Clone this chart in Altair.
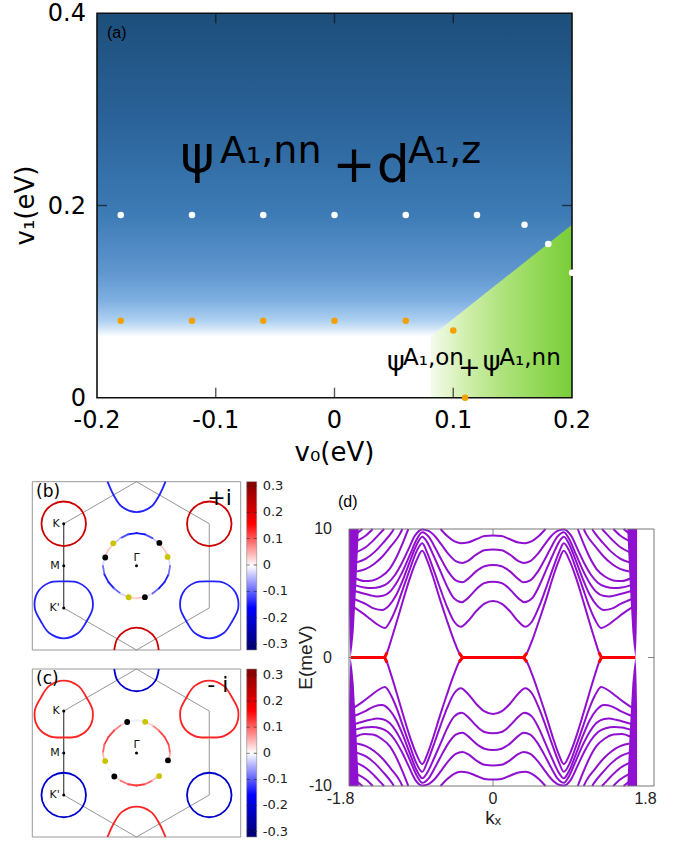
import math
import altair as alt
import pandas as pd

# ================= Panel (a): phase diagram =================
a_x_ticks = [-0.2, -0.1, 0.0, 0.1, 0.2]
a_x_labels = ["-0.2", "-0.1", "0", "0.1", "0.2"]
a_y_ticks = [0.0, 0.2, 0.4]
a_y_labels = ["0", "0.2", "0.4"]
a_white_v0 = [-0.18, -0.12, -0.06, 0.0, 0.06, 0.12, 0.16, 0.18, 0.2]
a_white_v1 = [0.19, 0.19, 0.19, 0.19, 0.19, 0.19, 0.18, 0.16, 0.13]
a_orange_v0 = [-0.18, -0.12, -0.06, 0.0, 0.06, 0.10, 0.11]
a_orange_v1 = [0.08, 0.08, 0.08, 0.08, 0.08, 0.07, 0.0]
a_blue_edge = 0.0635              # lower edge of the blue phase
a_green_v0 = [0.081, 0.2]         # boundary of the green phase
a_green_v1 = [0.0635, 0.18]

# ================= Panels (b), (c): Fermi surfaces =================
bz_hex_x = [0.0, 0.866, 0.866, 0.0, -0.866, -0.866, 0.0]
bz_hex_y = [1.0, 0.5, -0.5, -1.0, -0.5, 0.5, 1.0]
K_centers = [(-0.866, 0.5), (0.866, 0.5), (0.0, -1.0)]
Kp_centers = [(-0.866, -0.5), (0.866, -0.5), (0.0, 1.0)]
theta_12 = [0, 30, 60, 90, 120, 150, 180, 210, 240, 270, 300, 330]
r_circle = [0.265, 0.265, 0.265, 0.265, 0.265, 0.265, 0.265, 0.265, 0.265, 0.265, 0.265, 0.265]
r_tri_b = [0.345, 0.362, 0.345, 0.315, 0.345, 0.362, 0.345, 0.315, 0.345, 0.362, 0.345, 0.315]
r_tri_c = [0.345, 0.315, 0.345, 0.362, 0.345, 0.315, 0.345, 0.362, 0.345, 0.315, 0.345, 0.362]
val_K_b, val_Kp_b = 0.21, -0.13
val_K_c, val_Kp_c = 0.13, -0.20
theta_24 = [0, 15, 30, 45, 60, 75, 90, 105, 120, 135, 150, 165,
            180, 195, 210, 225, 240, 255, 270, 285, 300, 315, 330, 345]
r_gamma = [0.400, 0.395, 0.385, 0.378, 0.380, 0.387, 0.390, 0.387, 0.380, 0.378, 0.385, 0.395,
           0.400, 0.395, 0.385, 0.378, 0.380, 0.385, 0.387, 0.385, 0.380, 0.378, 0.385, 0.395]
val_gamma_b = [-0.06, 0.02, 0.05, 0.01, -0.08, -0.13, -0.15, -0.13, -0.08, 0.01, 0.05, 0.02,
               -0.06, -0.11, -0.15, -0.12, -0.06, 0.01, 0.05, 0.02, -0.06, -0.12, -0.15, -0.11]
val_gamma_c = [0.08, 0.11, 0.12, 0.10, 0.05, 0.0, -0.02, 0.0, 0.05, 0.10, 0.12, 0.11,
               0.07, 0.01, -0.02, 0.0, 0.06, 0.10, 0.12, 0.11, 0.07, 0.01, -0.02, 0.02]
dots_b_yellow = [136, 256, 16]
dots_b_black = [45, 165, 285]
dots_c_yellow = [74.5, 194.5, 314.5]
dots_c_black = [106.7, 226.7, 346.7]
dot_r = 0.385
sym_x = [-0.866, -0.866, -0.866]
sym_y = [0.5, 0.0, -0.5]
sym_lab = ["K", "M", "K'"]
cbar_ticks = [-0.3, -0.2, -0.1, 0.0, 0.1, 0.2, 0.3]
cbar_labels = ["-0.3", "-0.2", "-0.1", "0", "0.1", "0.2", "0.3"]

# ================= Panel (d): band structure =================
d_x_ticks = [-1.8, 0.0, 1.8]
d_x_labels = ["-1.8", "0", "1.8"]
d_y_ticks = [-10, 0, 10]
d_y_labels = ["-10", "0", "10"]
# bands running through k=0 (u >= 0 half, E > 0)
bands_center = [
    ([0, 0.1, 0.2, 0.3, 0.38, 0.46, 0.54, 0.62, 0.70, 0.78, 0.835, 0.90, 0.98, 1.06, 1.14, 1.20, 1.276, 1.36, 1.45, 1.54, 1.64],
     [4.4, 4.2, 3.6, 2.8, 2.4, 2.8, 3.9, 5.3, 6.8, 8.2, 8.9, 8.3, 6.9, 5.4, 3.9, 3.0, 2.3, 2.55, 3.0, 3.45, 3.9]),
    ([0, 0.1, 0.2, 0.3, 0.37, 0.46, 0.54, 0.62, 0.70, 0.78, 0.835, 0.90, 0.98, 1.06, 1.14, 1.22, 1.31, 1.40, 1.50, 1.64],
     [5.9, 5.8, 5.3, 4.6, 4.3, 4.6, 5.5, 6.7, 7.9, 9.0, 9.4, 8.8, 7.5, 6.1, 4.9, 4.1, 3.7, 3.8, 4.15, 4.55]),
    ([0, 0.1, 0.2, 0.3, 0.36, 0.44, 0.52, 0.60, 0.68, 0.76, 0.835, 0.90, 0.98, 1.06, 1.14, 1.22, 1.30, 1.37, 1.45, 1.54, 1.64],
     [7.2, 7.1, 6.7, 6.1, 5.85, 6.0, 6.6, 7.5, 8.5, 9.4, 9.75, 9.2, 8.0, 6.8, 5.8, 5.1, 4.8, 4.75, 4.85, 5.0, 5.2]),
    ([0, 0.1, 0.2, 0.3, 0.36, 0.44, 0.52, 0.60, 0.68, 0.76, 0.835, 0.92, 1.0, 1.08, 1.16, 1.24, 1.33, 1.43, 1.52, 1.64],
     [8.4, 8.35, 8.0, 7.5, 7.35, 7.5, 8.0, 8.7, 9.4, 9.85, 9.97, 9.5, 8.4, 7.3, 6.4, 5.8, 5.5, 5.4, 5.45, 5.65]),
    ([0, 0.1, 0.2, 0.3, 0.38, 0.46, 0.54, 0.62],
     [9.5, 9.45, 9.2, 8.95, 8.9, 9.05, 9.45, 10.0]),
]
# bands that stay on one side of k=0 (u >= 0, E > 0)
band_lambda = ([0.36, 0.40, 0.46, 0.55, 0.63, 0.71, 0.78, 0.835, 0.90, 0.98, 1.06, 1.14, 1.21, 1.25, 1.28],
               [0, 0.35, 1.3, 3.0, 4.6, 6.3, 7.6, 8.3, 7.6, 6.2, 4.5, 2.7, 1.2, 0.4, 0])
bands_side = [
    band_lambda,
    ([1.0, 1.06, 1.14, 1.22, 1.32, 1.42, 1.52, 1.62], [10.0, 9.0, 7.8, 6.9, 6.3, 6.0, 5.95, 6.15]),
    ([1.07, 1.1, 1.2, 1.3, 1.4, 1.5, 1.61], [10.0, 9.6, 8.7, 7.9, 7.3, 6.9, 6.7]),
    ([1.17, 1.2, 1.3, 1.4, 1.5, 1.61], [10.0, 9.7, 8.9, 8.2, 7.7, 7.4]),
    ([1.285, 1.3, 1.4, 1.5, 1.61], [10.0, 9.9, 9.2, 8.6, 8.2]),
    ([1.42, 1.5, 1.60], [10.0, 9.5, 9.1]),
    ([1.54, 1.60], [10.0, 9.7]),
]
zero_segments = [(-1.68, -1.28), (-0.36, 0.36), (1.28, 1.68)]
dense_E = [0, 1, 2, 4, 6, 8, 10]
dense_inner = [1.68, 1.66, 1.645, 1.628, 1.612, 1.598, 1.585]
dense_outer = [1.68, 1.69, 1.695, 1.70, 1.70, 1.70, 1.70]

# ---------------------------------------------------------------
FA = "DejaVu Sans"
FD = "Liberation Sans"
one = pd.DataFrame({"_": [0]})

# pixel frames of the panels (plot areas)
A_X, A_Y = [97, 572], [397.7, 13.3]
B_X, B_Y = [32.3, 240.7], [650.0, 481.7]
C_X, C_Y = [32.3, 240.7], [837.0, 669.0]
D_X, D_Y = [349, 654], [786, 529]
CB_X = [246.7, 256.7]
CB_B_Y = [644.0, 486.0]   # where -0.3 .. 0.3 sit on colour bar (b)
CB_C_Y = [831.5, 675.0]   # where -0.3 .. 0.3 sit on colour bar (c)


def Q(f, dom, rng, ch):
    sc = alt.Scale(domain=dom, range=rng, nice=False, zero=False)
    return (alt.X if ch == "x" else alt.Y)(f, type="quantitative", scale=sc, axis=None)


def D(v, dom, rng, ch):
    sc = alt.Scale(domain=dom, range=rng, nice=False, zero=False)
    return (alt.X if ch == "x" else alt.Y)(datum=v, type="quantitative", scale=sc, axis=None)


def textmark(txt, size, font=FA, align="left", baseline="alphabetic", color="black", **kw):
    return alt.Chart(one).mark_text(text=txt, fontSize=size, font=font, align=align,
                                    baseline=baseline, color=color, **kw)


def ticks(df, xe, ye, orient, size, off, color, th=1.4):
    kw = {"yOffset": off} if orient == "vertical" else {"xOffset": off}
    return alt.Chart(df).mark_tick(orient=orient, size=size, thickness=th, color=color, **kw).encode(
        x=xe, y=ye)


# ----- panel (a) -----
ADX = [a_x_ticks[0], a_x_ticks[-1]]
ADY = [a_y_ticks[0], a_y_ticks[-1]]
ax = lambda f: Q(f, ADX, A_X, "x")
ay = lambda f: Q(f, ADY, A_Y, "y")
adx = lambda v: D(v, ADX, A_X, "x")
ady = lambda v: D(v, ADY, A_Y, "y")

blue_grad = alt.Gradient(gradient="linear", x1=0, x2=0, y1=1, y2=0, stops=[
    alt.GradientStop(offset=0.0, color="#ffffff"),
    alt.GradientStop(offset=0.025, color="#d3e6f8"),
    alt.GradientStop(offset=0.05, color="#add0f0"),
    alt.GradientStop(offset=0.11, color="#80b0e2"),
    alt.GradientStop(offset=0.20, color="#5f96ce"),
    alt.GradientStop(offset=0.38, color="#3d7bb6"),
    alt.GradientStop(offset=0.67, color="#2a6399"),
    alt.GradientStop(offset=1.0, color="#1d4e7b"),
])
green_grad = alt.Gradient(gradient="linear", x1=0, x2=1, y1=0, y2=0, stops=[
    alt.GradientStop(offset=0.0, color="#f4fbec"),
    alt.GradientStop(offset=0.25, color="#d0efac"),
    alt.GradientStop(offset=0.5, color="#afe37e"),
    alt.GradientStop(offset=0.75, color="#94d958"),
    alt.GradientStop(offset=1.0, color="#79cd38"),
])

blue_df = pd.DataFrame({"v0": [ADX[0]], "v0b": [ADX[1]], "v1": [a_blue_edge], "v1b": [ADY[1]]})
blue = alt.Chart(blue_df).mark_rect(fill=blue_grad).encode(
    x=ax("v0"), x2="v0b", y=ay("v1"), y2="v1b")
green = alt.Chart(pd.DataFrame({"v0": a_green_v0, "v1": a_green_v1})).mark_area(
    color=green_grad).encode(x=ax("v0"), y=ay("v1"), y2=alt.Y2(datum=0))
frame_df = pd.DataFrame({"v0": [ADX[0]], "v0b": [ADX[1]], "v1": [ADY[0]], "v1b": [ADY[1]]})
frame_a = alt.Chart(frame_df).mark_rect(fillOpacity=0, stroke="#111", strokeWidth=1.6).encode(
    x=ax("v0"), x2="v0b", y=ay("v1"), y2="v1b")

ta_b = ticks(pd.DataFrame({"v0": a_x_ticks[1:-1], "v1": [ADY[0]] * 3}), ax("v0"), ay("v1"), "vertical", 10, -5, "#111")
ta_t = ticks(pd.DataFrame({"v0": a_x_ticks[1:-1], "v1": [ADY[1]] * 3}), ax("v0"), ay("v1"), "vertical", 10, 5, "#111")
ta_l = ticks(pd.DataFrame({"v0": [ADX[0]], "v1": [a_y_ticks[1]]}), ax("v0"), ay("v1"), "horizontal", 10, 5, "#111")
ta_r = ticks(pd.DataFrame({"v0": [ADX[1]], "v1": [a_y_ticks[1]]}), ax("v0"), ay("v1"), "horizontal", 10, -5, "#111")

white = alt.Chart(pd.DataFrame({"v0": a_white_v0, "v1": a_white_v1})).mark_circle(
    size=42, color="white", opacity=1).encode(x=ax("v0"), y=ay("v1"))
orange = alt.Chart(pd.DataFrame({"v0": a_orange_v0, "v1": a_orange_v1})).mark_circle(
    size=42, color="#f5a000", opacity=1).encode(x=ax("v0"), y=ay("v1"))

xlab_a = alt.Chart(pd.DataFrame({"v0": a_x_ticks, "t": a_x_labels})).mark_text(
    font=FA, fontSize=24, baseline="top", dy=11, color="black").encode(
    x=ax("v0"), y=ady(ADY[0]), text="t:N")
ylab_a = alt.Chart(pd.DataFrame({"v1": a_y_ticks, "t": a_y_labels})).mark_text(
    font=FA, fontSize=24, align="right", baseline="middle", dx=-11, dy=1, color="black").encode(
    x=adx(ADX[0]), y=ay("v1"), text="t:N")
xtitle_a = textmark("v₀(eV)", 26, align="center", baseline="middle").encode(
    x=adx(0.0), y=alt.value(453))
ytitle_a = textmark("v₁(eV)", 26, align="center", baseline="middle", angle=270).encode(
    x=alt.value(26), y=ady(0.2))


def at(txt, x, y, size, font=FA):
    return textmark(txt, size, font=font).encode(x=adx(x), y=ady(y))


texts_a = [
    at("(a)", -0.1916, 0.3743, 16, FD),
    at("ψ", -0.130, 0.235, 52),
    at("A₁,nn", -0.0964, 0.2439, 38),
    at("+", -0.002, 0.2245, 52),
    at("d", 0.0355, 0.2245, 52),
    at("A₁,z", 0.0619, 0.2439, 38),
    at("ψ", 0.0442, 0.0288, 27),
    at("A₁,on", 0.0577, 0.0340, 23),
    at("+", 0.1040, 0.0226, 27),
    at("ψ", 0.1248, 0.0288, 27),
    at("A₁,nn", 0.1388, 0.0340, 23),
]

panel_a = alt.layer(blue, green, ta_b, ta_t, ta_l, ta_r, frame_a, white, orange,
                    xlab_a, ylab_a, xtitle_a, ytitle_a, *texts_a)

# ----- panels (b), (c) -----
FDX = [-1.24, 1.24]
FDY = [-1.0, 1.0]
CDOM = [cbar_ticks[0], cbar_ticks[-1]]


def FC():
    return alt.Color("val:Q", scale=alt.Scale(
        domain=[-0.3, -0.15, 0.0, 0.15, 0.3],
        range=["#00006b", "#0000ff", "#ffffff", "#ff0000", "#800000"],
        interpolate="rgb"), legend=None)


def polar_rows(center, thetas, radii, val, pid, rows):
    cx, cy = center
    for i, (t, r) in enumerate(zip(thetas, radii)):
        rows.append({"x": cx + r * math.cos(math.radians(t)),
                     "y": cy + r * math.sin(math.radians(t)),
                     "val": val, "pid": pid, "i": i})


def make_fs(panel):
    if panel == "b":
        PX, PY, CBY = B_X, B_Y, CB_B_Y
        rK, rKp, vK, vKp = r_circle, r_tri_b, val_K_b, val_Kp_b
        vg, yel, blk, lab, sgn = val_gamma_b, dots_b_yellow, dots_b_black, "(b)", "+i"
    else:
        PX, PY, CBY = C_X, C_Y, CB_C_Y
        rK, rKp, vK, vKp = r_tri_c, r_circle, val_K_c, val_Kp_c
        vg, yel, blk, lab, sgn = val_gamma_c, dots_c_yellow, dots_c_black, "(c)", "- i"
    fx = lambda f: Q(f, FDX, PX, "x")
    fy = lambda f: Q(f, FDY, PY, "y")
    fdx = lambda v: D(v, FDX, PX, "x")
    fdy = lambda v: D(v, FDY, PY, "y")

    frame = alt.Chart(pd.DataFrame({"x": [FDX[0]], "x2": [FDX[1]], "y": [FDY[0]], "y2": [FDY[1]]})).mark_rect(
        fillOpacity=0, stroke="#999", strokeWidth=1).encode(x=fx("x"), x2="x2", y=fy("y"), y2="y2")

    hexdf = pd.DataFrame({"x": bz_hex_x, "y": bz_hex_y, "i": list(range(len(bz_hex_x)))})
    hexl = alt.Chart(hexdf).mark_line(color="#8a8a8a", strokeWidth=0.9).encode(
        x=fx("x"), y=fy("y"), order="i:Q")
    left = alt.Chart(pd.DataFrame({"x": [sym_x[0]], "y": [sym_y[0]], "y2": [sym_y[2]]})).mark_rule(
        color="#333", strokeWidth=0.9).encode(x=fx("x"), y=fy("y"), y2="y2")

    rows = []
    for ci, c in enumerate(K_centers[:2]):
        polar_rows(c, theta_12, rK, vK, f"K{ci}", rows)
    for ci, c in enumerate(Kp_centers[:2]):
        polar_rows(c, theta_12, rKp, vKp, f"P{ci}", rows)
    closed = alt.Chart(pd.DataFrame(rows)).mark_line(
        interpolate="cardinal-closed", strokeWidth=1.8).encode(
        x=fx("x"), y=fy("y"), color=FC(), detail="pid:N", order="i:Q")
    rows2 = []
    polar_rows(K_centers[2], theta_12[0:7], rK[0:7], vK, "Kb", rows2)
    polar_rows(Kp_centers[2], theta_12[6:] + [360], rKp[6:] + [rKp[0]], vKp, "Pt", rows2)
    halves = alt.Chart(pd.DataFrame(rows2)).mark_line(
        interpolate="cardinal", strokeWidth=1.8).encode(
        x=fx("x"), y=fy("y"), color=FC(), detail="pid:N", order="i:Q")

    seg = []
    n = len(theta_24)
    for i in range(n):
        j = (i + 1) % n
        t0, t1 = math.radians(theta_24[i]), math.radians(theta_24[j])
        seg.append({"x": r_gamma[i] * math.cos(t0), "y": r_gamma[i] * math.sin(t0),
                    "x2": r_gamma[j] * math.cos(t1), "y2": r_gamma[j] * math.sin(t1),
                    "val": 0.5 * (vg[i] + vg[j])})
    central = alt.Chart(pd.DataFrame(seg)).mark_rule(strokeWidth=1.8, strokeCap="round").encode(
        x=fx("x"), y=fy("y"), x2="x2", y2="y2", color=FC())

    def dots(angles, colr):
        df = pd.DataFrame({"x": [dot_r * math.cos(math.radians(a)) for a in angles],
                           "y": [dot_r * math.sin(math.radians(a)) for a in angles]})
        return alt.Chart(df).mark_circle(size=34, color=colr, opacity=1).encode(x=fx("x"), y=fy("y"))

    sympts = alt.Chart(pd.DataFrame({"x": sym_x + [0.0], "y": sym_y + [0.0]})).mark_circle(
        size=9, color="black", opacity=1).encode(x=fx("x"), y=fy("y"))
    symlab = alt.Chart(pd.DataFrame({"x": sym_x, "y": sym_y, "t": sym_lab})).mark_text(
        align="right", baseline="middle", dx=-4, fontSize=11, font=FA, color="#111").encode(
        x=fx("x"), y=fy("y"), text="t:N")
    gam = textmark("Γ", 11, align="center", baseline="bottom", dy=-3, color="#111").encode(
        x=fdx(0.0), y=fdy(0.0))
    lab_t = textmark(lab, 17).encode(x=fdx(-1.196), y=fdy(0.818))
    sgn_t = textmark(sgn, 22).encode(x=fdx(0.842), y=fdy(0.724))

    panel = alt.layer(frame, hexl, left, closed, halves, central, dots(blk, "black"),
                      dots(yel, "#c8c400"), sympts, symlab, gam, lab_t, sgn_t)

    # colour bar (its own scale); the bar spans the panel height
    cby = lambda f: Q(f, CDOM, CBY, "y")
    seis = alt.Gradient(gradient="linear", x1=0, x2=0, y1=1, y2=0, stops=[
        alt.GradientStop(offset=0.0, color="#00006b"),
        alt.GradientStop(offset=0.25, color="#0000ff"),
        alt.GradientStop(offset=0.5, color="#ffffff"),
        alt.GradientStop(offset=0.75, color="#ff0000"),
        alt.GradientStop(offset=1.0, color="#800000"),
    ])
    cb = alt.Chart(one).mark_rect(fill=seis, stroke="#888", strokeWidth=0.6).encode(
        x=alt.value(CB_X[0]), x2=alt.value(CB_X[1]), y=alt.value(PY[1]), y2=alt.value(PY[0]))
    cbdf = pd.DataFrame({"c": cbar_ticks, "t": cbar_labels})
    cbl = alt.Chart(cbdf).mark_text(align="left", baseline="middle", fontSize=13, font=FA,
                                    color="#222").encode(
        x=alt.value(CB_X[1] + 6), y=cby("c"), text="t:N")
    cbt1 = alt.Chart(cbdf).mark_tick(orient="horizontal", size=3, thickness=0.8, color="#222").encode(
        x=alt.value(CB_X[0] + 1.5), y=cby("c"))
    cbt2 = alt.Chart(cbdf).mark_tick(orient="horizontal", size=3, thickness=0.8, color="#222").encode(
        x=alt.value(CB_X[1] - 1.5), y=cby("c"))
    cbar = alt.layer(cb, cbt1, cbt2, cbl)
    return panel, cbar


panel_b, cbar_b = make_fs("b")
panel_c, cbar_c = make_fs("c")

# ----- panel (d) -----
DDX = [-1.70, 1.90]
DDY = [d_y_ticks[0], d_y_ticks[-1]]
dxe = lambda f: Q(f, DDX, D_X, "x")
dye = lambda f: Q(f, DDY, D_Y, "y")
ddx = lambda v: D(v, DDX, D_X, "x")
ddy = lambda v: D(v, DDY, D_Y, "y")

PURPLE = "#9010d0"
brows = []
bid = 0
for us, es in bands_center:
    fu = [-u for u in reversed(us[1:])] + list(us)
    fe = list(reversed(es[1:])) + list(es)
    for se in (1, -1):
        for i, (u, e) in enumerate(zip(fu, fe)):
            brows.append({"k": u, "E": se * e, "b": bid, "i": i})
        bid += 1
for us, es in bands_side:
    for su in (1, -1):
        for se in (1, -1):
            pts = list(zip(us, es))
            if su < 0:
                pts = pts[::-1]
            for i, (u, e) in enumerate(pts):
                brows.append({"k": su * u, "E": se * e, "b": bid, "i": i})
            bid += 1
bands = alt.Chart(pd.DataFrame(brows)).mark_line(
    interpolate="monotone", color=PURPLE, strokeWidth=2).encode(
    x=dxe("k"), y=dye("E"), detail="b:N", order="i:Q")

drows = []
q = 0
for su in (1, -1):
    for se in (1, -1):
        for e, a, b in zip(dense_E, dense_inner, dense_outer):
            drows.append({"k": su * a, "k2": su * b, "E": se * e, "q": q})
        q += 1
dense = alt.Chart(pd.DataFrame(drows)).mark_area(orient="horizontal", color=PURPLE).encode(
    y=dye("E"), x=dxe("k"), x2="k2", detail="q:N")

rrows = []
rid = 0
for k0, k1 in zero_segments:
    rrows += [{"k": k0, "E": 0.0, "r": rid, "i": 0}, {"k": k1, "E": 0.0, "r": rid, "i": 1}]
    rid += 1
lu, le = band_lambda
for su in (1, -1):
    for se in (1, -1):
        for idx in ((0, 1), (-2, -1)):
            pts = sorted([(su * lu[idx[0]], se * le[idx[0]]), (su * lu[idx[1]], se * le[idx[1]])])
            for i, (u, e) in enumerate(pts):
                rrows.append({"k": u, "E": e, "r": rid, "i": i})
            rid += 1
red = alt.Chart(pd.DataFrame(rrows)).mark_line(color="#ff0000", strokeWidth=3).encode(
    x=dxe("k"), y=dye("E"), detail="r:N", order="i:Q")

frame_d = alt.Chart(pd.DataFrame({"x": [DDX[0]], "x2": [DDX[1]], "y": [DDY[0]], "y2": [DDY[1]]})).mark_rect(
    fillOpacity=0, stroke="#777", strokeWidth=1).encode(x=dxe("x"), x2="x2", y=dye("y"), y2="y2")
td_b = ticks(pd.DataFrame({"k": [0.0], "E": [DDY[0]]}), dxe("k"), dye("E"), "vertical", 6, -3, "#555", 1)
td_t = ticks(pd.DataFrame({"k": [0.0], "E": [DDY[1]]}), dxe("k"), dye("E"), "vertical", 6, 3, "#555", 1)
td_l = ticks(pd.DataFrame({"k": [DDX[0]], "E": [0.0]}), dxe("k"), dye("E"), "horizontal", 6, 3, "#555", 1)
td_r = ticks(pd.DataFrame({"k": [DDX[1]], "E": [0.0]}), dxe("k"), dye("E"), "horizontal", 6, -3, "#555", 1)

xlab_d = alt.Chart(pd.DataFrame({"k": d_x_ticks, "t": d_x_labels})).mark_text(
    font=FD, fontSize=16, baseline="top", dy=5, color="#222").encode(
    x=dxe("k"), y=ddy(DDY[0]), text="t:N")
ylab_d = alt.Chart(pd.DataFrame({"E": d_y_ticks, "t": d_y_labels})).mark_text(
    font=FD, fontSize=16, align="right", baseline="middle", dx=-17, color="#222").encode(
    x=ddx(DDX[0]), y=dye("E"), text="t:N")
xtitle_d = textmark("kₓ", 19, font=FD, align="center", baseline="middle", color="#222").encode(
    x=ddx(0.0), y=alt.value(818))
ytitle_d = textmark("E(meV)", 19, font=FD, align="center", baseline="middle", angle=270,
                    color="#222").encode(x=alt.value(306), y=ddy(0.0))
dlab = textmark("(d)", 16, font=FD, baseline="middle").encode(x=alt.value(338), y=alt.value(502))

panel_d = alt.layer(dense, bands, red, frame_d, td_b, td_t, td_l, td_r,
                    xlab_d, ylab_d, xtitle_d, ytitle_d, dlab)

chart = alt.layer(panel_a, panel_b, cbar_b, panel_c, cbar_c, panel_d).resolve_scale(
    x="independent", y="independent").properties(
    width=689, height=842, padding=0, background="white",
    autosize=alt.AutoSizeParams(type="none"),
    view=alt.ViewBackground(stroke=None),
)

chart.save("out.html", embed_options={"renderer": "svg", "actions": False})
